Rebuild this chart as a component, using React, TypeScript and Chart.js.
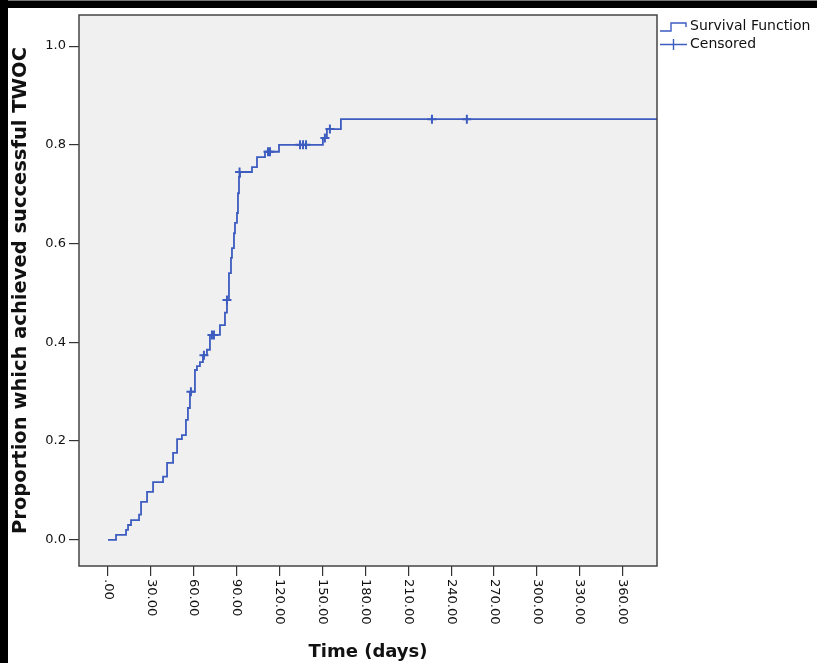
import React, { useEffect, useRef } from "react";
import { Chart, registerables } from "chart.js";

Chart.register(...registerables);

// Kaplan-Meier style cumulative curve (time in days, proportion)
const survTimes = [0, 5.6, 12.6, 14.0, 16.1, 21.7, 23.1, 27.3, 31.5, 38.5, 41.3, 45.5, 48.3, 51.7, 54.5, 55.9, 57.3, 60.8, 62.2, 64.3, 66.4, 69.2, 71.3, 78.3, 81.8, 83.2, 84.6, 86.0, 86.7, 88.1, 88.8, 90.2, 90.9, 91.6, 92.3, 100.7, 104.2, 109.8, 119.6, 150.3, 153.1, 162.9, 384];
const survValues = [0, 0.010, 0.020, 0.030, 0.040, 0.051, 0.077, 0.097, 0.117, 0.128, 0.156, 0.176, 0.204, 0.212, 0.243, 0.267, 0.300, 0.344, 0.352, 0.360, 0.374, 0.385, 0.415, 0.435, 0.460, 0.486, 0.540, 0.571, 0.591, 0.621, 0.642, 0.662, 0.702, 0.735, 0.745, 0.755, 0.775, 0.786, 0.800, 0.814, 0.832, 0.852, 0.852];

const censorTimes = [58.0, 67.1, 72.7, 74.1, 83.2, 92.0, 111.9, 113.3, 134.3, 136.4, 138.5, 151.7, 155.2, 226.6, 251.0];
const censorValues = [0.300, 0.374, 0.415, 0.415, 0.486, 0.745, 0.786, 0.786, 0.800, 0.800, 0.800, 0.814, 0.832, 0.852, 0.852];

const xTickValues = [0, 30, 60, 90, 120, 150, 180, 210, 240, 270, 300, 330, 360];
const xTickLabels = [".00", "30.00", "60.00", "90.00", "120.00", "150.00", "180.00", "210.00", "240.00", "270.00", "300.00", "330.00", "360.00"];
const yTickValues = [0, 0.2, 0.4, 0.6, 0.8, 1.0];
const yTickLabels = ["0.0", "0.2", "0.4", "0.6", "0.8", "1.0"];

const legendLabels = ["Survival Function", "Censored"];

const LINE = "#3d5cc0";
const FONT = "'DejaVu Sans', sans-serif";

export default function App() {
  const ref = useRef<HTMLCanvasElement | null>(null);

  useEffect(() => {
    if (!ref.current) return;

    const framePlugin = {
      id: "frame",
      beforeDatasetsDraw(chart: any) {
        const { ctx, chartArea: a } = chart;
        ctx.save();
        ctx.fillStyle = "#f0f0f0";
        ctx.fillRect(a.left, a.top, a.right - a.left, a.bottom - a.top);
        ctx.restore();
      },
      afterDraw(chart: any) {
        const { ctx, chartArea: a } = chart;
        ctx.save();
        ctx.strokeStyle = "#444";
        ctx.lineWidth = 1.5;
        ctx.strokeRect(a.left, a.top, a.right - a.left, a.bottom - a.top);

        // rotated x tick labels (reading top to bottom)
        const xs = chart.scales.x;
        ctx.fillStyle = "#111";
        ctx.font = `13px ${FONT}`;
        ctx.textAlign = "left";
        ctx.textBaseline = "middle";
        xTickValues.forEach((v, i) => {
          const px = xs.getPixelForValue(v);
          ctx.save();
          ctx.translate(px, a.bottom + 13);
          ctx.rotate(Math.PI / 2);
          ctx.fillText(xTickLabels[i], 0, 0);
          ctx.restore();
        });

        // legend
        const lx = a.right + 3;
        ctx.strokeStyle = LINE;
        ctx.lineWidth = 1.4;
        ctx.beginPath();
        ctx.moveTo(lx, 31);
        ctx.lineTo(lx + 11, 31);
        ctx.lineTo(lx + 11, 23);
        ctx.lineTo(lx + 26, 23);
        ctx.lineTo(lx + 26, 27);
        ctx.stroke();
        ctx.beginPath();
        ctx.moveTo(lx, 44.5);
        ctx.lineTo(lx + 27, 44.5);
        ctx.moveTo(lx + 13.5, 39);
        ctx.lineTo(lx + 13.5, 50);
        ctx.stroke();
        ctx.fillStyle = "#111";
        ctx.font = `14px ${FONT}`;
        ctx.textAlign = "left";
        ctx.textBaseline = "middle";
        ctx.fillText(legendLabels[0], lx + 30, 26);
        ctx.fillText(legendLabels[1], lx + 30, 44);
        ctx.restore();
      },
    };

    const chart = new Chart(ref.current, {
      type: "line",
      data: {
        datasets: [
          {
            label: legendLabels[0],
            data: survTimes.map((t, i) => ({ x: t, y: survValues[i] })),
            borderColor: LINE,
            borderWidth: 1.8,
            stepped: "before",
            pointRadius: 0,
            fill: false,
          },
          {
            label: legendLabels[1],
            data: censorTimes.map((t, i) => ({ x: t, y: censorValues[i] })),
            showLine: false,
            pointStyle: "cross",
            pointRadius: 4.5,
            pointBorderWidth: 2,
            borderColor: LINE,
            backgroundColor: LINE,
          },
        ],
      },
      options: {
        animation: false,
        responsive: false,
        layout: { padding: { left: 8, top: 15, right: 160, bottom: 0 } },
        plugins: { legend: { display: false }, tooltip: { enabled: false } },
        scales: {
          x: {
            type: "linear",
            min: -20.3,
            max: 384,
            afterBuildTicks: (s: any) => {
              s.ticks = xTickValues.map((v) => ({ value: v }));
            },
            afterFit: (s: any) => {
              s.height = 97;
            },
            ticks: { display: false },
            grid: { drawOnChartArea: false, drawTicks: true, tickLength: 10, color: "#333", lineWidth: 1.2 },
            border: { display: false },
            title: {
              display: true,
              text: "Time (days)",
              color: "#111",
              font: { family: FONT, size: 18, weight: "bold" },
              padding: { top: 0, bottom: 0 },
            },
          },
          y: {
            type: "linear",
            min: -0.053,
            max: 1.063,
            afterBuildTicks: (s: any) => {
              s.ticks = yTickValues.map((v) => ({ value: v }));
            },
            afterFit: (s: any) => {
              s.width = 71;
            },
            ticks: {
              color: "#111",
              font: { family: FONT, size: 13 },
              padding: 3,
              callback: (v: any) => {
                const i = yTickValues.findIndex((t) => Math.abs(t - Number(v)) < 1e-6);
                return i >= 0 ? yTickLabels[i] : "";
              },
            },
            grid: { drawOnChartArea: false, drawTicks: true, tickLength: 10, color: "#333", lineWidth: 1.2 },
            border: { display: false },
            title: {
              display: true,
              text: "Proportion which achieved successful TWOC",
              color: "#111",
              font: { family: FONT, size: 19.5, weight: "bold" },
              padding: { top: 1, bottom: 0 },
            },
          },
        },
      },
      plugins: [framePlugin],
    } as any);

    return () => chart.destroy();
  }, []);

  return (
    <div style={{ position: "fixed", left: 0, top: 0, width: 817, height: 663, background: "#fff", overflow: "hidden" }}>
      <canvas ref={ref} width={817} height={663} style={{ position: "absolute", left: 0, top: 0 }} />
      <div style={{ position: "absolute", left: 0, top: 0, width: 817, height: 8, background: "#000" }} />
      <div style={{ position: "absolute", left: 0, top: 0, width: 817, height: 1, background: "#777" }} />
      <div style={{ position: "absolute", left: 0, top: 0, width: 8, height: 663, background: "#000" }} />
    </div>
  );
}
